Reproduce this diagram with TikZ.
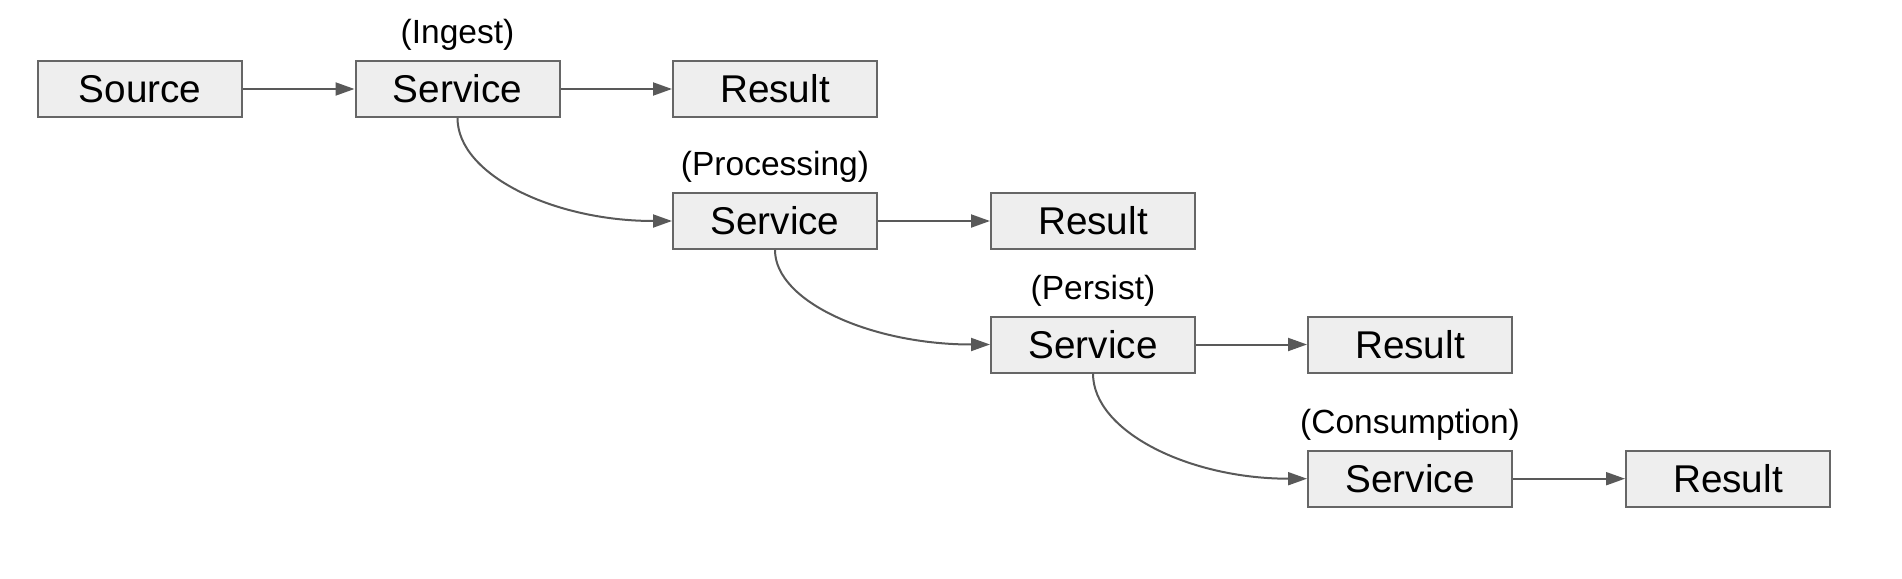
\documentclass[tikz,border=0pt]{standalone}
\usepackage{fontspec}
\setmainfont{Liberation Sans}
\usetikzlibrary{arrows.meta}
\definecolor{boxfill}{HTML}{EEEEEE}
\definecolor{boxline}{HTML}{666666}
\definecolor{arrowc}{HTML}{595959}
\begin{document}
\begin{tikzpicture}[x=1pt,y=-1pt,
  box/.style={draw=boxline, fill=boxfill, line width=2pt, minimum width=204pt, minimum height=56pt, inner sep=0pt, font=\fontsize{38.7}{46}\selectfont},
  lbl/.style={inner sep=0pt, font=\fontsize{33.5}{40}\selectfont},
  conn/.style={draw=arrowc, line width=2pt, -{Triangle[length=19pt,width=13pt]}}]
\useasboundingbox (0,0) rectangle (1902,578);
\node[box] (s0) at (140,89) {Source};
\node[box] (s1) at (457.5,89) {Service};
\node[box] (r1) at (775,89) {Result};
\node[box] (s2) at (775,221) {Service};
\node[box] (r2) at (1093,221) {Result};
\node[box] (s3) at (1093,344.5) {Service};
\node[box] (r3) at (1410,344.5) {Result};
\node[box] (s4) at (1410,478.7) {Service};
\node[box] (r4) at (1728,478.7) {Result};
\node[lbl] (l1) at ([yshift=25pt]s1.north) {(Ingest)};
\node[lbl] (l2) at ([yshift=25pt]s2.north) {(Processing)};
\node[lbl] (l3) at ([yshift=25pt]s3.north) {(Persist)};
\node[lbl] (l4) at ([yshift=25pt]s4.north) {(Consumption)};
\draw[conn] (s0) -- (s1);
\draw[conn] (s1) -- (r1);
\draw[conn] (s2) -- (r2);
\draw[conn] (s3) -- (r3);
\draw[conn] (s4) -- (r4);
\draw[conn] (s1.south) .. controls ([yshift=-57pt]s1.south) and ([xshift=-118pt]s2.west) .. (s2.west);
\draw[conn] (s2.south) .. controls ([yshift=-52pt]s2.south) and ([xshift=-118pt]s3.west) .. (s3.west);
\draw[conn] (s3.south) .. controls ([yshift=-58pt]s3.south) and ([xshift=-118pt]s4.west) .. (s4.west);
\end{tikzpicture}
\end{document}
